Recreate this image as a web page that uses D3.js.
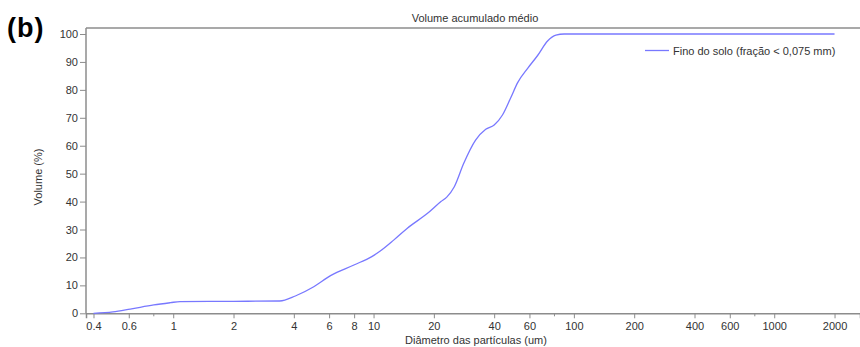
<!DOCTYPE html>
<html>
<head>
<meta charset="utf-8">
<script src="https://cdn.jsdelivr.net/npm/d3@7"></script>
<style>
  body { margin: 0; background: #fff; }
  svg { display: block; font-family: "Liberation Sans", Arial, sans-serif; }
</style>
</head>
<body>
<div id="chart"></div>
<script>
// diâmetro (um) e volume acumulado (%)
const diameters = [0.4, 0.5, 0.61, 0.8, 0.97, 1.08, 2, 3.4, 4.07, 5.03, 6.1, 7.98, 9.8, 10.8, 12.6, 14.7, 18.6, 21.7, 23.2, 25.3, 28.2, 32.3, 36.3, 40, 44, 48.4, 52.4, 58.9, 65.9, 73.9, 81.3, 89.4, 200, 1000, 2000];
const volumes   = [0,   0.5, 1.5,  3.0, 3.8,  4.2,  4.3, 4.4, 6.2,  9.5,  13.5, 17.3, 20.3, 22.3, 26.2, 30.4, 35.8, 40,   41.6, 45.3, 53.7, 62,   65.9, 67.4, 71, 77.2, 82.6, 87.8, 92.3, 97.5, 99.6, 100,  100, 100,  100];
const xTickValues = [0.4, 0.6, 1, 2, 4, 6, 8, 10, 20, 40, 60, 100, 200, 400, 600, 1000, 2000];
const xMinorTicks = [0.8, 80, 800];
const yTickValues = [0, 10, 20, 30, 40, 50, 60, 70, 80, 90, 100];
const seriesName = 'Fino do solo (fração < 0,075 mm)';

const width = 860, height = 347;
const plotLeft = 86, plotRight = 860, plotTop = 28, plotBottom = 313.3;

const svg = d3.select('#chart').append('svg')
  .attr('width', width)
  .attr('height', height);

// escalas
const x = d3.scaleLog()
  .domain([0.367, 2680])
  .range([plotLeft, plotRight]);

const y = d3.scaleLinear()
  .domain([0, 100])
  .range([plotBottom, 34]);

const axisColor = '#8c8c8c';

// linha superior do quadro
svg.append('line')
  .attr('x1', plotLeft).attr('x2', plotRight)
  .attr('y1', plotTop).attr('y2', plotTop)
  .attr('stroke', axisColor).attr('stroke-width', 1.5);

// eixo X
const gx = svg.append('g')
  .attr('transform', `translate(0, ${plotBottom})`)
  .call(d3.axisBottom(x).tickValues(xTickValues).tickFormat(d3.format('')).tickSizeOuter(0).tickSize(5).tickPadding(4));

gx.selectAll('.minor')
  .data(xMinorTicks)
  .enter().append('line')
  .attr('class', 'minor')
  .attr('x1', d => x(d)).attr('x2', d => x(d))
  .attr('y1', 0).attr('y2', 3)
  .attr('stroke', axisColor);

// eixo Y
const gy = svg.append('g')
  .attr('transform', `translate(${plotLeft}, 0)`)
  .call(d3.axisLeft(y).tickValues(yTickValues).tickSizeOuter(0).tickSize(6).tickPadding(2));

// prolonga o eixo Y até o topo
gy.select('.domain').attr('d', `M0,${plotTop}V${plotBottom}`);

[gx, gy].forEach(g => {
  g.select('.domain').attr('stroke', axisColor).attr('stroke-width', 1.5);
  g.selectAll('.tick line').attr('stroke', axisColor);
  g.selectAll('.tick text').attr('fill', '#333').style('font-size', '11px');
});

// curva
const points = diameters.map((d, i) => ({ d: d, v: volumes[i] }));
const line = d3.line()
  .x(p => x(p.d))
  .y(p => y(p.v))
  .curve(d3.curveMonotoneX);

svg.append('path')
  .datum(points)
  .attr('fill', 'none')
  .attr('stroke', '#7878ff')
  .attr('stroke-width', 1.3)
  .attr('d', line);

// legenda
svg.append('line')
  .attr('x1', 645).attr('x2', 669)
  .attr('y1', 50.5).attr('y2', 50.5)
  .attr('stroke', '#7878ff').attr('stroke-width', 1.3);

svg.append('text')
  .attr('x', 673).attr('y', 54.5)
  .style('font-size', '11px')
  .attr('fill', '#333')
  .text(seriesName);

// título
svg.append('text')
  .attr('x', 475).attr('y', 22)
  .style('text-anchor', 'middle')
  .style('font-size', '11px')
  .attr('fill', '#333')
  .text('Volume acumulado médio');

// rótulo (b)
svg.append('text')
  .attr('x', 7).attr('y', 37)
  .style('font-size', '27px')
  .style('font-weight', 'bold')
  .style('letter-spacing', '1px')
  .attr('fill', '#000')
  .text('(b)');

// rótulos dos eixos
svg.append('text')
  .attr('transform', 'rotate(-90)')
  .attr('x', -177).attr('y', 42)
  .style('text-anchor', 'middle')
  .style('font-size', '11px')
  .attr('fill', '#333')
  .text('Volume (%)');

svg.append('text')
  .attr('x', 476).attr('y', 344)
  .style('text-anchor', 'middle')
  .style('font-size', '11px')
  .attr('fill', '#333')
  .text('Diâmetro das partículas (um)');
</script>
</body>
</html>
